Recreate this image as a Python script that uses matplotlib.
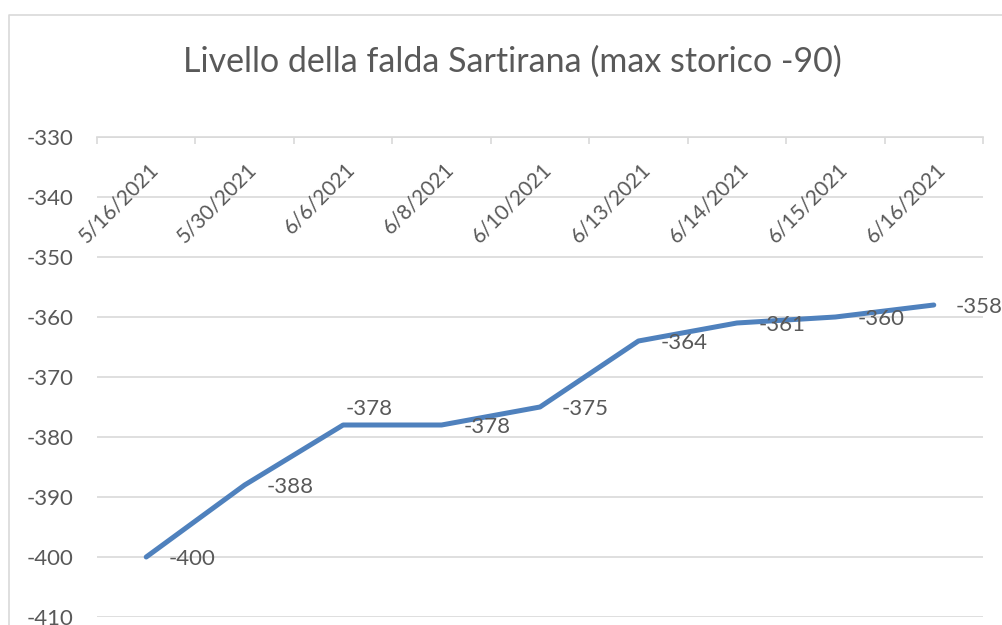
import matplotlib
matplotlib.use("Agg")
import matplotlib.pyplot as plt
import numpy as np
from matplotlib.lines import Line2D

plt.rcParams['font.family'] = ['Lato', 'DejaVu Sans']

# data
dates = ["5/16/2021", "5/30/2021", "6/6/2021", "6/8/2021", "6/10/2021",
         "6/13/2021", "6/14/2021", "6/15/2021", "6/16/2021"]
livello = [-400, -388, -378, -378, -375, -364, -361, -360, -358]
yticks = [-410, -400, -390, -380, -370, -360, -350, -340, -330]
title = "Livello della falda Sartirana (max storico -90)"

grey = "#595959"
grid = "#D9D9D9"
blue = "#4F81BD"

fig = plt.figure(figsize=(10.03, 6.25), dpi=100)
W, H = 1003, 625
ax = fig.add_axes([97 / W, 1 - 617 / H, (983 - 97) / W, (617 - 137) / H])

x = np.arange(len(dates))
ax.plot(x, livello, color=blue, lw=3.6, solid_capstyle='round', solid_joinstyle='round', zorder=3)

ax.set_xlim(-0.5, len(dates) - 0.5)
ax.set_ylim(-410, -330)
ax.set_yticks(yticks)
ax.set_yticklabels([str(v) for v in yticks])
ax.yaxis.grid(True, color=grid, lw=1.2)
ax.set_axisbelow(True)
ax.tick_params(axis='y', length=0, pad=17, labelsize=16, labelcolor=grey)

# category axis sits at the top
ax.set_xticks(np.arange(-0.5, len(dates)))
ax.set_xticklabels([])
ax.xaxis.set_ticks_position('top')
ax.tick_params(axis='x', direction='in', length=5, width=1.2, color=grid)
for s in ['left', 'right', 'bottom']:
    ax.spines[s].set_visible(False)
ax.spines['top'].set_color(grid)
ax.spines['top'].set_linewidth(1.2)

for i, d in enumerate(dates):
    ax.annotate(d, xy=(i, -330), xytext=(9, -29), textcoords='offset pixels',
                rotation=45, rotation_mode='anchor', ha='right', va='center',
                fontsize=15, color=grey, annotation_clip=False)

# data labels (Excel "right" position, one moved above)
for i, v in enumerate(livello):
    if i == 2:
        ax.annotate(str(v), xy=(i, v), xytext=(26, 16), textcoords='offset pixels',
                    ha='center', va='center', fontsize=16, color=grey)
    else:
        ax.annotate(str(v), xy=(i, v), xytext=(22, -2), textcoords='offset pixels',
                    ha='left', va='center', fontsize=16, color=grey)

fig.text(512 / W, 1 - 62 / H, title, ha='center', va='center', fontsize=24.5, color=grey)

# chart area border (cropped at right and bottom)
fig.add_artist(Line2D([9 / W, 9 / W, 1.0], [0.0, 1 - 15 / H, 1 - 15 / H],
                      transform=fig.transFigure, color=grid, lw=1.2))

fig.savefig("out.png", dpi=100)
